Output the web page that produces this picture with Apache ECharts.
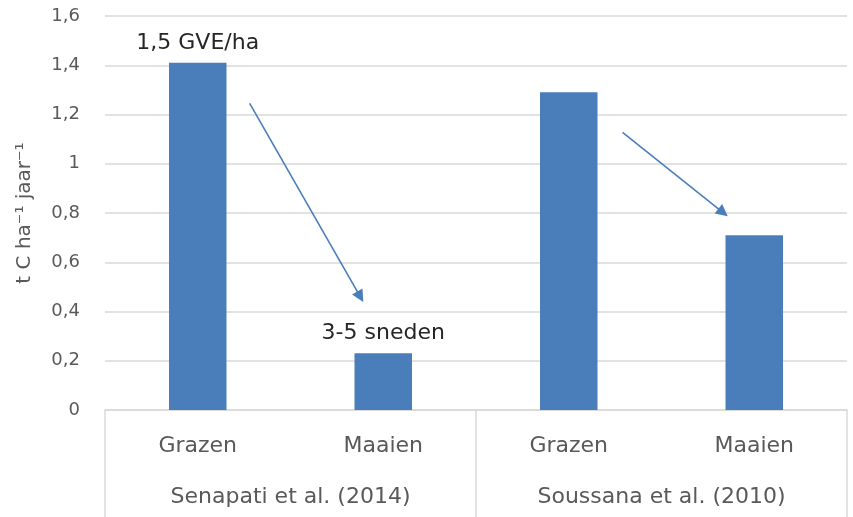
<!DOCTYPE html>
<html>
<head>
<meta charset="utf-8">
<script src="https://cdn.jsdelivr.net/npm/echarts@6/dist/echarts.min.js"></script>
<style>
  html, body { margin: 0; padding: 0; background: #fff; }
  #chart { width: 853px; height: 517px; }
</style>
</head>
<body>
<div id="chart"></div>
<script>
// data
var treatments = ['Grazen', 'Maaien', 'Grazen', 'Maaien'];
var studies = ['Senapati et al. (2014)', 'Soussana et al. (2010)'];
var carbon = [1.41, 0.23, 1.29, 0.71];
var notes = ['1,5 GVE/ha', '3-5 sneden', '', ''];
var yTicks = [0, 0.2, 0.4, 0.6, 0.8, 1, 1.2, 1.4, 1.6];
// arrows as [x (category index), y (value)] pairs, end = centre of the head
var arrows = [
    [[0.28, 1.245], [0.876, 0.46]],
    [[2.29, 1.127], [2.832, 0.802]]
];

var font = 'DejaVu Sans';
var grey = '#595959';
var lineGrey = '#d9d9d9';
var blue = '#4a7ebb';

var chart = echarts.init(document.getElementById('chart'));

var barData = carbon.map(function (v, i) {
    var item = { value: v };
    if (notes[i]) {
        item.label = {
            show: true,
            position: 'top',
            distance: 9,
            formatter: notes[i],
            color: '#262626',
            fontSize: 22,
            fontFamily: font
        };
    }
    return item;
});

option = {
    animation: false,
    textStyle: { fontFamily: font },
    grid: { left: 105, right: 6, top: 16, bottom: 107 },
    xAxis: [
        {
            type: 'category',
            data: treatments,
            position: 'bottom',
            axisLine: { show: true, onZero: false, lineStyle: { color: lineGrey, width: 1.5 } },
            axisTick: { show: false },
            axisLabel: { color: grey, fontSize: 22, margin: 25, fontFamily: font },
            splitLine: { show: false }
        },
        {
            type: 'category',
            data: studies,
            position: 'bottom',
            axisLine: { show: false, onZero: false },
            axisTick: { show: true, length: 110, alignWithLabel: false, lineStyle: { color: lineGrey, width: 1.5 } },
            axisLabel: { color: grey, fontSize: 22, margin: 76, fontFamily: font },
            splitLine: { show: false }
        },
        {
            type: 'value',
            min: -0.5,
            max: 3.5,
            show: false
        }
    ],
    yAxis: {
        type: 'value',
        min: yTicks[0],
        max: yTicks[yTicks.length - 1],
        interval: 0.2,
        name: 't C ha\u207B\u00B9 jaar\u207B\u00B9',
        nameLocation: 'middle',
        nameGap: 70,
        nameTextStyle: { color: grey, fontSize: 20, fontFamily: font },
        axisLine: { show: false },
        axisTick: { show: false },
        axisLabel: {
            color: grey,
            fontSize: 18,
            margin: 25,
            fontFamily: font,
            formatter: function (v) {
                return String(Math.round(v * 10) / 10).replace('.', ',');
            }
        },
        splitLine: { lineStyle: { color: lineGrey, width: 1.5 } }
    },
    series: [
        {
            type: 'bar',
            xAxisIndex: 0,
            data: barData,
            barWidth: '31%',
            itemStyle: { color: blue }
        },
        {
            type: 'lines',
            coordinateSystem: 'cartesian2d',
            xAxisIndex: 2,
            yAxisIndex: 0,
            symbol: ['none', 'triangle'],
            symbolSize: 12,
            lineStyle: { color: blue, width: 1.6, opacity: 1 },
            data: arrows.map(function (a) { return { coords: a }; }),
            z: 5
        }
    ]
};

chart.setOption(option);
</script>
</body>
</html>
